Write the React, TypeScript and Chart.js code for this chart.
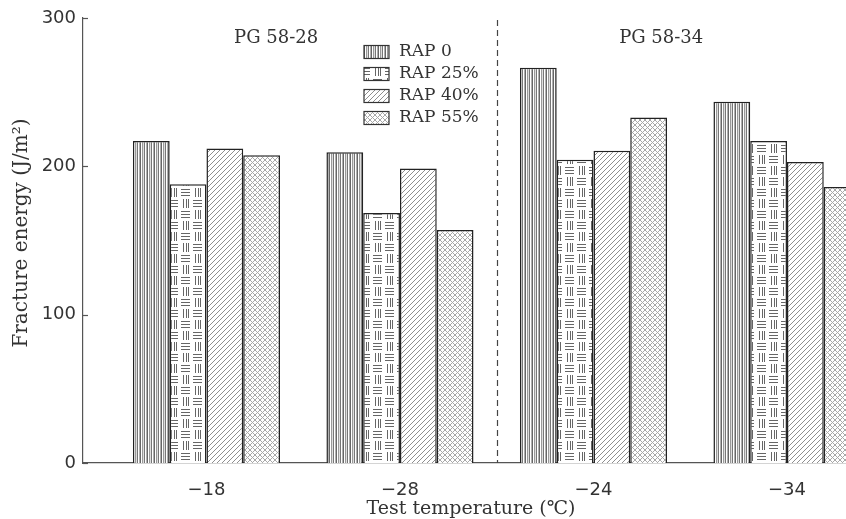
import React, { useEffect, useRef } from 'react';
import { Chart, registerables } from 'chart.js';

Chart.register(...registerables);

const categories = ['\u221218', '\u221228', '\u221224', '\u221234'];
const seriesNames = ['RAP 0', 'RAP 25%', 'RAP 40%', 'RAP 55%'];
const rap0 = [217, 209.5, 266.5, 243.5];
const rap25 = [188, 168.5, 204.5, 217];
const rap40 = [212, 198.5, 210.5, 203];
const rap55 = [207.5, 157, 233, 186];
const yTicks = [0, 100, 200, 300];
const groupLabels = ['PG 58-28', 'PG 58-34'];
const groupLabelPos = [0.36, 2.35];
const dividerPos = 1.5;
const xTitle = 'Test temperature (\u2103)';
const yTitle = 'Fracture energy (J/m\u00b2)';

const SERIF = '"DejaVu Serif", serif';
const SANS = '"DejaVu Sans", sans-serif';
const INK = '#333';

function makePattern(kind: number): CanvasPattern | string {
  const c = document.createElement('canvas');
  const size = kind === 0 ? [7, 4] : kind === 1 ? [24, 22] : kind === 2 ? [5, 5] : [5, 5];
  c.width = size[0];
  c.height = size[1];
  const ctx = c.getContext('2d')!;
  ctx.fillStyle = '#fff';
  ctx.fillRect(0, 0, c.width, c.height);
  if (kind === 0) {
    const cols = ['#666', '#fff', '#999', '#ddd', '#777', '#fff', '#b0b0b0'];
    cols.forEach((col, i) => {
      ctx.fillStyle = col;
      ctx.fillRect(i, 0, 1, 4);
    });
  } else if (kind === 1) {
    ctx.fillStyle = '#666';
    const hBlock = (ox: number, oy: number) => {
      for (const y of [2, 5, 8]) ctx.fillRect(ox + 1, oy + y, 9, 1);
    };
    const vBlock = (ox: number, oy: number) => {
      for (const x of [3, 6, 8]) ctx.fillRect(ox + x, oy + 1, 1, 9);
    };
    hBlock(0, 0);
    vBlock(12, 0);
    vBlock(0, 11);
    hBlock(12, 11);
  } else if (kind === 2) {
    ctx.fillStyle = '#8e8e8e';
    for (let i = 0; i < 5; i++) ctx.fillRect(i, 4 - i, 1, 1);
  } else {
    ctx.fillStyle = '#a8a8a8';
    for (let i = 0; i < 5; i++) {
      ctx.fillRect(i, i, 1, 1);
      ctx.fillRect(i, 4 - i, 1, 1);
    }
  }
  return ctx.createPattern(c, 'repeat') || '#999';
}

const decor = {
  id: 'decor',
  afterDraw(chart: any) {
    const { ctx, chartArea, scales } = chart;
    const xs = scales.x;
    const ys = scales.y;
    ctx.save();
    // y tick marks (inside)
    ctx.strokeStyle = '#555';
    ctx.lineWidth = 1.2;
    for (const v of yTicks) {
      const py = Math.round(ys.getPixelForValue(v)) + 0.5;
      ctx.beginPath();
      ctx.moveTo(chartArea.left, py);
      ctx.lineTo(chartArea.left + 5, py);
      ctx.stroke();
    }
    // divider dashed line
    const dx = Math.round(xs.getPixelForValue(dividerPos)) + 0.5;
    ctx.strokeStyle = '#444';
    ctx.lineWidth = 1.2;
    ctx.setLineDash([6, 4]);
    ctx.beginPath();
    ctx.moveTo(dx, chartArea.top + 2);
    ctx.lineTo(dx, chartArea.bottom);
    ctx.stroke();
    ctx.setLineDash([]);

    // group labels
    ctx.fillStyle = INK;
    ctx.font = '18px ' + SERIF;
    ctx.textAlign = 'center';
    ctx.textBaseline = 'middle';
    groupLabels.forEach((t, i) => {
      ctx.fillText(t, xs.getPixelForValue(groupLabelPos[i]), ys.getPixelForValue(286));
    });

    // legend
    const lx = chartArea.left + 281;
    const ly0 = chartArea.top + 34;
    chart.data.datasets.forEach((ds: any, i: number) => {
      const cy = ly0 + i * 22;
      ctx.fillStyle = ds.backgroundColor;
      ctx.fillRect(lx, cy - 6.5, 25, 13);
      ctx.strokeStyle = '#333';
      ctx.lineWidth = 1.2;
      ctx.strokeRect(lx, cy - 6.5, 25, 13);
      ctx.fillStyle = INK;
      ctx.font = '17px ' + SERIF;
      ctx.textAlign = 'left';
      ctx.textBaseline = 'middle';
      ctx.fillText(ds.label, lx + 35, cy);
    });

    // axis titles
    ctx.fillStyle = INK;
    ctx.textAlign = 'center';
    ctx.textBaseline = 'middle';
    ctx.font = '19px ' + SERIF;
    ctx.fillText(xTitle, chartArea.left + 388, chart.height - 10);
    ctx.font = '20px ' + SERIF;
    ctx.translate(22, chartArea.top + 215);
    ctx.rotate(-Math.PI / 2);
    ctx.fillText(yTitle, 0, 0);
    ctx.restore();
  },
};

export default function App() {
  const ref = useRef<HTMLCanvasElement>(null);
  useEffect(() => {
    const seriesValues = [rap0, rap25, rap40, rap55];
    const chart = new Chart(ref.current as HTMLCanvasElement, {
      type: 'bar',
      data: {
        datasets: seriesValues.map((vals, si) => ({
          label: seriesNames[si],
          data: vals.map((v, i) => ({ x: i, y: v })),
          backgroundColor: makePattern(si) as any,
          borderColor: '#222',
          borderWidth: 1.5,
          categoryPercentage: 0.76,
          barPercentage: 1,
        })),
      },
      options: {
        responsive: false,
        animation: false,
        devicePixelRatio: 1,
        layout: { padding: { left: 0, top: 18, right: 0, bottom: 0 } },
        plugins: {
          legend: { display: false },
          tooltip: { enabled: false },
          title: { display: false },
        },
        scales: {
          x: {
            type: 'linear',
            offset: false,
            min: -0.638,
            max: 3.305,
            grid: { display: false, drawTicks: false, offset: false },
            border: { display: true, color: '#555', width: 1.2 },
            afterBuildTicks: (scale: any) => {
              scale.ticks = categories.map((_, i) => ({ value: i }));
            },
            afterFit: (scale: any) => {
              scale.height = 56;
            },
            ticks: {
              callback: (v: any) => categories[v] ?? '',
              font: { family: SANS, size: 18 },
              color: INK,
              padding: 17,
              maxRotation: 0,
              autoSkip: false,
            },
          },
          y: {
            min: 0,
            max: 300,
            grid: { display: false, drawTicks: false },
            border: { display: true, color: '#555', width: 1.2 },
            afterFit: (scale: any) => {
              scale.width = 83;
            },
            ticks: {
              stepSize: 100,
              font: { family: SANS, size: 18 },
              color: INK,
              padding: 7,
            },
          },
        },
      },
      plugins: [decor],
    } as any);
    return () => chart.destroy();
  }, []);
  return (
    <div style={{ position: 'absolute', left: 0, top: 0, width: 846, height: 519, background: '#fff' }}>
      <canvas ref={ref} width={846} height={519} style={{ display: 'block' }} />
    </div>
  );
}
